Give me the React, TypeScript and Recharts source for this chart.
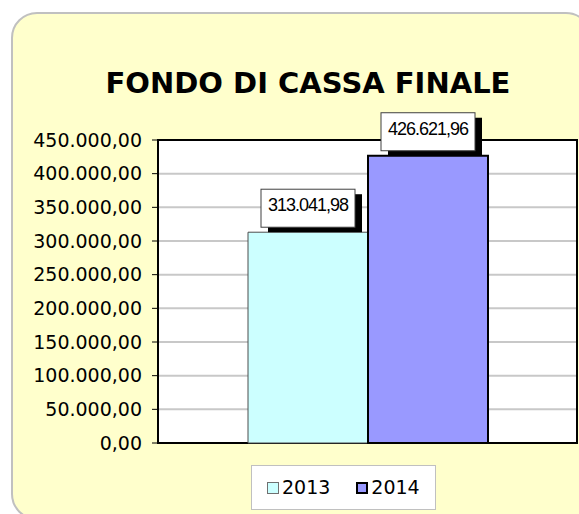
import React from 'react';
import { BarChart, Bar, XAxis, YAxis, CartesianGrid, ReferenceArea } from 'recharts';

const categories = ['Fondo di cassa finale'];
const seriesNames = ['2013', '2014'];
const values2013 = [313041.98];
const values2014 = [426621.96];
const yTicks = [0, 50000, 100000, 150000, 200000, 250000, 300000, 350000, 400000, 450000];
const title = 'FONDO DI CASSA FINALE';

const fills = ['#CCFFFF', '#9999FF'];
const strokes = ['#4d4d4d', '#000000'];
const strokeWidths = [1, 2];

const data = categories.map((c, i) => ({ name: c, s2013: values2013[i], s2014: values2014[i] }));
const keys = ['s2013', 's2014'];

function fmt(v: number): string {
  const [intPart, dec] = Math.abs(v).toFixed(2).split('.');
  const grouped = intPart.replace(/\B(?=(\d{3})+(?!\d))/g, '.');
  return (v < 0 ? '-' : '') + grouped + ',' + dec;
}

const renderLabel = (props: any) => {
  const x = Number(props.x);
  const y = Number(props.y);
  const width = Number(props.width);
  const cx = x + width / 2;
  const w = 94;
  const h = 38;
  const bx = cx - w / 2;
  const by = y - 43;
  return (
    <g>
      <rect x={bx + 7} y={by + 5} width={w} height={h} fill="#000" />
      <rect x={bx} y={by} width={w} height={h} fill="#fff" stroke="#404040" strokeWidth={1} />
      <text
        x={cx}
        y={by + 22}
        textAnchor="middle"
        fontFamily="'Liberation Sans', Arial, sans-serif"
        fontSize={18}
        letterSpacing={-1}
        fill="#000"
      >
        {fmt(Number(props.value))}
      </text>
    </g>
  );
};

export default function App() {
  return (
    <div style={{ position: 'absolute', left: 0, top: 0, width: 579, height: 514, overflow: 'hidden' }}>
      <div
        style={{
          position: 'absolute',
          left: 11,
          top: 12,
          width: 581,
          height: 508,
          boxSizing: 'border-box',
          border: '2px solid #C0C0C0',
          borderRadius: 26,
          background: '#FFFFCC',
        }}
      />
      <div
        style={{
          position: 'absolute',
          left: 0,
          top: 68.5,
          width: 616,
          textAlign: 'center',
          fontFamily: "'DejaVu Sans', Verdana, sans-serif",
          fontWeight: 'bold',
          fontSize: 29,
          lineHeight: '29px',
          color: '#000',
          whiteSpace: 'nowrap',
        }}
      >
        {title}
      </div>
      <div style={{ position: 'absolute', left: 0, top: 0 }}>
        <BarChart
          width={579}
          height={514}
          data={data}
          margin={{ top: 140, right: 2, bottom: 71, left: 0 }}
          barCategoryGap={90}
          barGap={0}
        >
          <CartesianGrid horizontal vertical={false} stroke="#C8C8C8" strokeWidth={2} fill="#FFFFFF" />
          <XAxis dataKey="name" hide />
          <YAxis
            width={158}
            domain={[0, 450000]}
            ticks={yTicks}
            interval={0}
            tickFormatter={(v: number) => fmt(v)}
            tick={{ fontFamily: "'DejaVu Sans', Verdana, sans-serif", fontSize: 19, fill: '#000' }}
            tickLine={{ stroke: '#000', strokeWidth: 1 }}
            tickSize={6}
            tickMargin={10}
            axisLine={{ stroke: '#000', strokeWidth: 2 }}
          />
          {keys.map((k, i) => (
            <Bar
              key={k}
              dataKey={k}
              name={seriesNames[i]}
              fill={fills[i]}
              stroke={strokes[i]}
              strokeWidth={strokeWidths[i]}
              isAnimationActive={false}
              label={renderLabel}
            />
          ))}
          <ReferenceArea
            y1={0}
            y2={450000}
            stroke="#000"
            strokeWidth={2}
            fill="none"
            fillOpacity={0}
            ifOverflow="visible"
          />
        </BarChart>
      </div>
      <div
        style={{
          position: 'absolute',
          left: 251,
          top: 465,
          width: 185,
          height: 45,
          boxSizing: 'border-box',
          border: '1px solid #C0C0C0',
          background: '#FFFFFF',
          display: 'flex',
          alignItems: 'center',
          paddingLeft: 15,
          fontFamily: "'DejaVu Sans', Verdana, sans-serif",
          fontSize: 19,
          color: '#000',
        }}
      >
        {seriesNames.map((n, i) => (
          <div key={n} style={{ display: 'flex', alignItems: 'center', marginRight: i === 0 ? 26 : 0 }}>
            <span
              style={{
                display: 'inline-block',
                width: 12,
                height: 12,
                boxSizing: 'border-box',
                background: fills[i],
                border: `${i === 0 ? 1 : 2}px solid ${i === 0 ? '#707070' : '#000'}`,
                marginRight: 3,
              }}
            />
            <span style={{ lineHeight: '19px' }}>{n}</span>
          </div>
        ))}
      </div>
    </div>
  );
}
